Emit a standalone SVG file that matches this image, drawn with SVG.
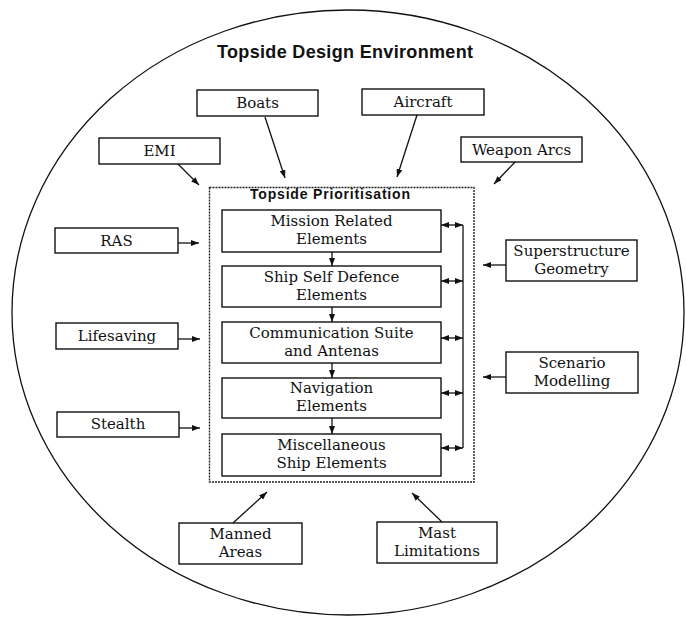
<svg xmlns="http://www.w3.org/2000/svg" width="686" height="617" viewBox="0 0 686 617">
<style>
.bx{fill:#fff;stroke:#111;stroke-width:1.4}
.t{font-family:"DejaVu Serif","Liberation Serif",serif;font-size:15px;fill:#111;text-anchor:middle}
.h{font-family:"Liberation Sans",Arial,sans-serif;font-weight:bold;fill:#111}
.c{stroke:#111;stroke-width:1.3;fill:none}
</style>
<defs>
<marker id="ah" viewBox="0 0 8 6" refX="8" refY="3" markerWidth="8" markerHeight="6" markerUnits="userSpaceOnUse" orient="auto">
<path d="M0,0 L8,3 L0,6 Z" fill="#111"/>
</marker>
<marker id="as" viewBox="0 0 8 6" refX="0" refY="3" markerWidth="8" markerHeight="6" markerUnits="userSpaceOnUse" orient="auto">
<path d="M8,0 L0,3 L8,6 Z" fill="#111"/>
</marker>
</defs>
<rect width="686" height="617" fill="#fff"/>
<g id="environment">
<ellipse cx="348" cy="312.5" rx="336" ry="302.5" fill="none" stroke="#111" stroke-width="1.3"/>
<text class="h" x="217" y="58" font-size="18" textLength="256" lengthAdjust="spacing">Topside Design Environment</text>
</g>
<g id="prioritisation">
<rect x="209.5" y="187.5" width="264.5" height="294.5" fill="none" stroke="#222" stroke-width="1.4" stroke-dasharray="2 1"/>
<text class="h" x="250" y="199" font-size="14" textLength="160" lengthAdjust="spacing">Topside Prioritisation</text>
</g>
<g id="mission"><rect class="bx" x="222" y="210" width="219" height="42"/><text class="t" x="331.5" y="226">Mission Related</text><text class="t" x="331.5" y="244">Elements</text></g>
<g id="selfdefence"><rect class="bx" x="222" y="266" width="219" height="41"/><text class="t" x="331.5" y="281.5">Ship Self Defence</text><text class="t" x="331.5" y="299.5">Elements</text></g>
<g id="communication"><rect class="bx" x="222" y="322" width="219" height="41"/><text class="t" x="331.5" y="337.5">Communication Suite</text><text class="t" x="331.5" y="355.5">and Antenas</text></g>
<g id="navigation"><rect class="bx" x="222" y="378" width="219" height="40"/><text class="t" x="331.5" y="393">Navigation</text><text class="t" x="331.5" y="411">Elements</text></g>
<g id="misc"><rect class="bx" x="222" y="434" width="219" height="42"/><text class="t" x="331.5" y="450">Miscellaneous</text><text class="t" x="331.5" y="468">Ship Elements</text></g>
<g id="boats"><rect class="bx" x="197" y="90" width="121" height="26"/><text class="t" x="257.5" y="108">Boats</text></g>
<g id="aircraft"><rect class="bx" x="362" y="89" width="122" height="26"/><text class="t" x="423" y="107">Aircraft</text></g>
<g id="emi"><rect class="bx" x="99" y="138" width="121" height="26"/><text class="t" x="159.5" y="156">EMI</text></g>
<g id="weapon"><rect class="bx" x="461" y="137" width="121" height="25"/><text class="t" x="521.5" y="155">Weapon Arcs</text></g>
<g id="ras"><rect class="bx" x="55" y="228" width="123" height="25"/><text class="t" x="116.5" y="246">RAS</text></g>
<g id="lifesaving"><rect class="bx" x="56" y="323" width="122" height="26"/><text class="t" x="117" y="341">Lifesaving</text></g>
<g id="stealth"><rect class="bx" x="57" y="412" width="122" height="25"/><text class="t" x="118" y="429">Stealth</text></g>
<g id="superstructure"><rect class="bx" x="506" y="240" width="131" height="41"/><text class="t" x="571.5" y="255.5">Superstructure</text><text class="t" x="571.5" y="273.5">Geometry</text></g>
<g id="scenario"><rect class="bx" x="506" y="352" width="132" height="41"/><text class="t" x="572" y="367.5">Scenario</text><text class="t" x="572" y="385.5">Modelling</text></g>
<g id="manned"><rect class="bx" x="179" y="523" width="123" height="41"/><text class="t" x="240.5" y="538.5">Manned</text><text class="t" x="240.5" y="556.5">Areas</text></g>
<g id="mast"><rect class="bx" x="377" y="522" width="120" height="41"/><text class="t" x="437" y="537.5">Mast</text><text class="t" x="437" y="555.5">Limitations</text></g>
<g id="connectors">
<line class="c" x1="265" y1="117" x2="285" y2="178" marker-end="url(#ah)"/>
<line class="c" x1="417" y1="115" x2="397" y2="177" marker-end="url(#ah)"/>
<line class="c" x1="178" y1="164" x2="199" y2="185" marker-end="url(#ah)"/>
<line class="c" x1="515" y1="162" x2="494" y2="184" marker-end="url(#ah)"/>
<line class="c" x1="178" y1="243" x2="199" y2="243" marker-end="url(#ah)"/>
<line class="c" x1="178" y1="339" x2="200" y2="339" marker-end="url(#ah)"/>
<line class="c" x1="179" y1="428" x2="200" y2="428" marker-end="url(#ah)"/>
<line class="c" x1="506" y1="265" x2="483" y2="265" marker-end="url(#ah)"/>
<line class="c" x1="506" y1="377" x2="483" y2="377" marker-end="url(#ah)"/>
<line class="c" x1="233" y1="523" x2="267" y2="492" marker-end="url(#ah)"/>
<line class="c" x1="442" y1="522" x2="412" y2="493" marker-end="url(#ah)"/>
<line class="c" x1="332" y1="252" x2="332" y2="266" marker-end="url(#ah)"/>
<line class="c" x1="332" y1="307" x2="332" y2="322" marker-end="url(#ah)"/>
<line class="c" x1="332" y1="363" x2="332" y2="378" marker-end="url(#ah)"/>
<line class="c" x1="332" y1="418" x2="332" y2="434" marker-end="url(#ah)"/>
<line class="c" x1="463" y1="225" x2="463" y2="448"/>
<line class="c" x1="441" y1="225" x2="463" y2="225" marker-start="url(#as)" marker-end="url(#ah)"/>
<line class="c" x1="441" y1="281" x2="463" y2="281" marker-start="url(#as)" marker-end="url(#ah)"/>
<line class="c" x1="441" y1="338" x2="463" y2="338" marker-start="url(#as)" marker-end="url(#ah)"/>
<line class="c" x1="441" y1="393" x2="463" y2="393" marker-start="url(#as)" marker-end="url(#ah)"/>
<line class="c" x1="441" y1="448" x2="463" y2="448" marker-start="url(#as)" marker-end="url(#ah)"/>
</g>
</svg>
